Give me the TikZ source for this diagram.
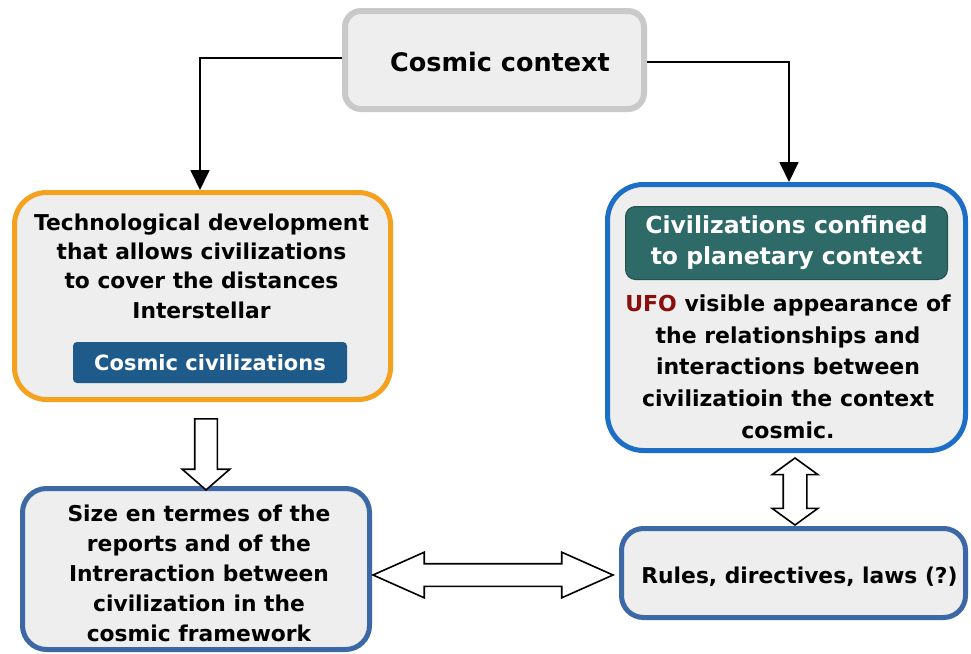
\documentclass[tikz,border=0pt]{standalone}
\usepackage{fontspec}
\setmainfont{DejaVu Sans}
\usetikzlibrary{arrows.meta,shapes.arrows,calc}
\definecolor{bfill}{HTML}{EEEEEE}
\definecolor{topgray}{HTML}{C9C9C9}
\definecolor{orng}{HTML}{F4A11D}
\definecolor{rblue}{HTML}{1C6EC6}
\definecolor{bblue}{HTML}{3D68A6}
\definecolor{labblue}{HTML}{1E5A8A}
\definecolor{tealbox}{HTML}{2E6A67}
\definecolor{uford}{HTML}{8B0E0E}
\tikzset{
  panel/.style={draw, fill=bfill, line width=5pt, inner sep=0pt},
  conn/.style={line width=1.8pt, -{Triangle[length=20pt,width=19pt]}},
  hollow/.style={draw=black, fill=white, line width=1.6pt, inner sep=0pt},
  ptext/.style={align=center, inner sep=0pt, text=black},
}
\begin{document}
\begin{tikzpicture}[x=1pt,y=-1pt]
\fill[white] (0,0) rectangle (971,653);
\useasboundingbox (0,0) rectangle (971,653);

% panels
\node[panel, draw=topgray, line width=6pt, rounded corners=16pt, minimum width=299pt, minimum height=98pt] (top) at (494.5,60) {};
\node[panel, draw=orng, rounded corners=32pt, minimum width=376pt, minimum height=207pt] (left) at (202.5,296) {};
\node[panel, draw=rblue, rounded corners=36pt, minimum width=358pt, minimum height=266pt] (right) at (786.5,317.5) {};
\node[panel, draw=bblue, rounded corners=24pt, minimum width=347pt, minimum height=161pt] (bl) at (196,569) {};
\node[panel, draw=bblue, rounded corners=22pt, minimum width=344pt, minimum height=89pt] (br) at (793.5,573) {};

% inner labels
\node[fill=labblue, rounded corners=4pt, minimum width=274pt, minimum height=41pt, inner sep=0pt,
      text=white, font=\bfseries\fontsize{21}{25}\selectfont] (cc) at (210,362.5) {Cosmic civilizations};
\node[fill=tealbox, draw=tealbox!75!black, line width=1pt, rounded corners=10pt, minimum width=322pt, minimum height=73pt, inner sep=0pt,
      text=white, align=center, font=\bfseries\fontsize{23.5}{31}\selectfont] (conf) at (786.5,243) {Civilizations confined\\to planetary context};

% texts
\node[ptext, font=\bfseries\fontsize{25.5}{30}\selectfont] (toptxt) at (500,62) {Cosmic context};
\node[ptext, font=\bfseries\fontsize{21.8}{29.3}\selectfont] (ltxt) at (201.5,266) {Technological development\\that allows civilizations\\to cover the distances\\Interstellar};
\node[ptext, font=\bfseries\fontsize{22}{31.7}\selectfont] (rtxt) at (788,366.5) {\textcolor{uford}{UFO} visible appearance of\\the relationships and\\interactions between\\civilizatioin the context\\cosmic.};
\node[ptext, font=\bfseries\fontsize{21.8}{30}\selectfont] (bltxt) at (199,573) {Size en termes of the\\reports and of the\\Intreraction between\\civilization in the\\cosmic framework};
\node[ptext, font=\bfseries\fontsize{21.8}{26}\selectfont] (brtxt) at (799.5,577) {Rules, directives, laws (?)};

% connectors
\draw[conn] ([yshift=2pt]top.west) -| ([xshift=-2.5pt]left.north);
\draw[conn] ([yshift=-2pt]top.east) -| ([xshift=2.5pt]right.north);

% hollow arrows (square strut sets shaft width)
\node[single arrow, hollow, shape border rotate=270, minimum height=71pt, minimum width=46pt,
      single arrow head extend=12.5pt, single arrow tip angle=98] (darr) at (206,449.5) {\rule{0pt}{21pt}\rule{21pt}{0pt}};
\node[double arrow, hollow, shape border rotate=90, minimum height=67pt, minimum width=44pt,
      double arrow head extend=11pt, double arrow tip angle=108] (varr) at (795,491.5) {\rule{0pt}{22pt}\rule{22pt}{0pt}};
\node[double arrow, hollow, minimum height=240pt, minimum width=44pt,
      double arrow head extend=11.5pt, double arrow tip angle=48] (harr) at (493,575) {\rule{0pt}{21pt}\rule{21pt}{0pt}};
\end{tikzpicture}
\end{document}
